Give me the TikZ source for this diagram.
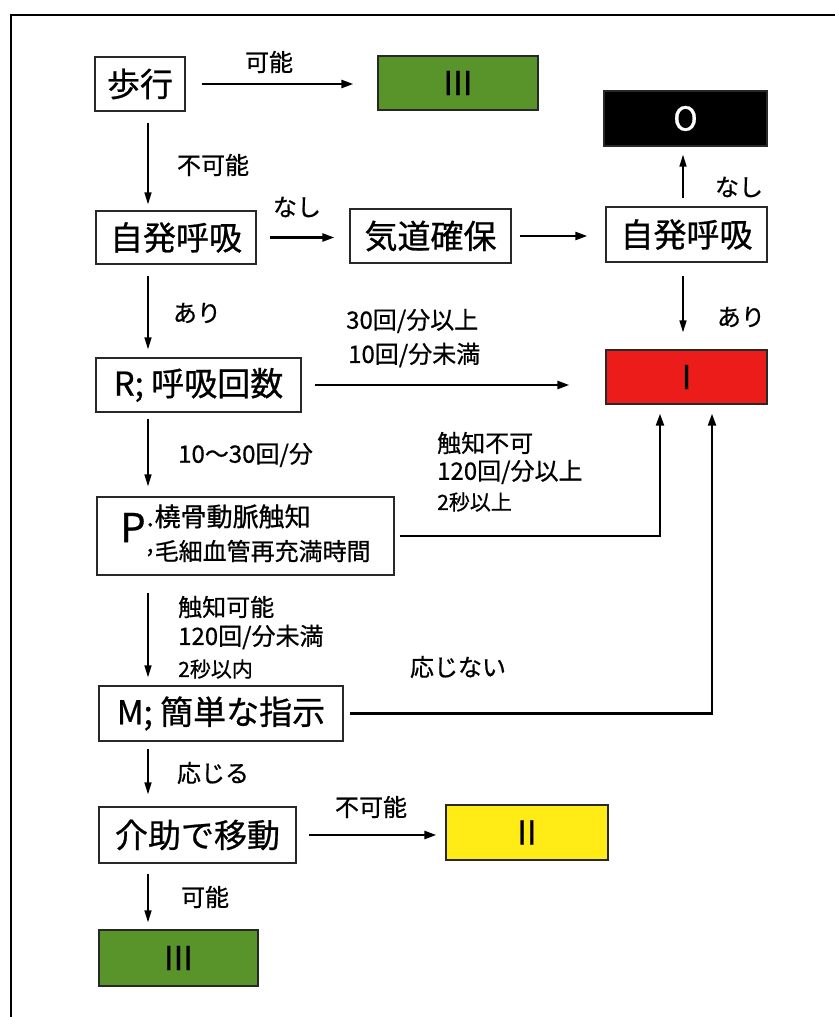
\documentclass[tikz,border=0pt]{standalone}
\usepackage{fontspec}
\newfontfamily\jp[FakeBold=0.7]{Noto Sans CJK JP}
\usetikzlibrary{arrows.meta}
\definecolor{grn}{RGB}{88,148,42}
\definecolor{rd}{RGB}{236,28,26}
\definecolor{yl}{RGB}{255,236,22}
\definecolor{edge}{RGB}{40,40,40}
\newcommand\mainf{\jp\fontsize{33}{36}\selectfont}
\newcommand\labf{\jp\fontsize{24}{26}\selectfont}
\newcommand\smlf{\jp\fontsize{21}{23}\selectfont}
\tikzset{
  box/.style={draw=edge, line width=1.3pt, inner sep=0pt, font=\mainf, align=center, fill=white},
  lab/.style={font=\labf, inner sep=0pt},
  slab/.style={font=\smlf, inner sep=0pt},
  arrV/.style={-{Triangle[length=12pt,width=7pt]}, line width=1.5pt},
  arrH/.style={-{Triangle[length=12pt,width=8pt]}, line width=2.4pt},
}
\begin{document}
\begin{tikzpicture}[x=1pt,y=-1pt]
\useasboundingbox (0,0) rectangle (835,1017);
\fill[white] (0,0) rectangle (835,1017);
\draw[line width=2pt, black] (11,1017) -- (11,15) -- (835,15);

% nodes
\node[box, minimum width=90pt, minimum height=54pt] (walk) at (140,84) {歩行};
\node[box, fill=grn, minimum width=160pt, minimum height=54pt] (g1) at (458,83) {III};
\node[box, fill=black, text=white, minimum width=163pt, minimum height=55pt] (zero) at (685.5,118.5) {O};
\node[box, minimum width=160pt, minimum height=53pt] (sb1) at (176,237.5) {自発呼吸};
\node[box, minimum width=161pt, minimum height=54pt] (air) at (430.5,236) {気道確保};
\node[box, minimum width=161pt, minimum height=55pt] (sb2) at (686.5,234.5) {自発呼吸};
\node[box, fill=rd, minimum width=161pt, minimum height=54pt] (red) at (686.5,377) {I};
\node[box, minimum width=205pt, minimum height=54pt] (R) at (198.5,385) {R; 呼吸回数};
\node[box, minimum width=297pt, minimum height=78pt, align=left] (P) at (245.5,536)
  {{\jp\fontsize{40}{40}\selectfont P}\hspace{1pt}\begin{tabular}{@{}l@{}}
   {\jp\fontsize{26}{30}\selectfont\makebox[8pt][l]{.}橈骨動脈触知}\\[-2pt]
   {\jp\fontsize{24}{30}\selectfont\makebox[8pt][l]{\raisebox{0.35em}{,}}毛細血管再充満時間}
   \end{tabular}};
\node[box, minimum width=244pt, minimum height=55pt] (M) at (221,713.5) {M; 簡単な指示};
\node[box, minimum width=197pt, minimum height=56pt] (as) at (197.5,835) {介助で移動};
\node[box, fill=yl, minimum width=162pt, minimum height=55pt] (yel) at (527,832.5) {II};
\node[box, fill=grn, minimum width=159pt, minimum height=56pt] (g2) at (178.5,958) {III};

\coordinate (lx) at (148,0);

% connectors
\draw[arrH, shorten <=16pt, shorten >=24pt] (walk.east) -- (walk.east -| g1.west);
\draw[arrV, shorten <=11pt, shorten >=6pt] (walk.south -| lx) -- (sb1.north -| lx);
\draw[arrH, shorten <=13pt, shorten >=15pt] (sb1.east) -- (sb1.east -| air.west);
\draw[arrH, shorten <=8pt, shorten >=18pt] (air.east) -- (air.east -| sb2.west);
\draw[arrV, shorten <=8pt, shorten >=8pt] ([xshift=-3.5pt]sb2.north) -- ([xshift=-3.5pt]sb2.north |- zero.south);
\draw[arrV, shorten <=13pt, shorten >=17pt] ([xshift=-3.5pt]sb2.south) -- ([xshift=-3.5pt]sb2.south |- red.north);
\draw[arrV, shorten <=11pt, shorten >=8pt] (sb1.south -| lx) -- (R.north -| lx);
\draw[arrH, shorten <=13pt, shorten >=36pt] (R.east) -- (R.east -| red.west);
\draw[arrV, shorten <=6pt, shorten >=10pt] (R.south -| lx) -- (P.north -| lx);
\draw[arrH, line width=2.2pt, shorten <=5pt, shorten >=9pt] (P.east) -| ([xshift=-26.5pt]red.south);
\draw[arrV, shorten <=17pt, shorten >=8pt] (P.south -| lx) -- (M.north -| lx);
\draw[arrH, line width=2.2pt, shorten <=6pt, shorten >=9pt] (M.east) -| ([xshift=25.5pt]red.south);
\draw[arrV, shorten <=7pt, shorten >=12pt] (M.south -| lx) -- (as.north -| lx);
\draw[arrH, shorten <=12pt, shorten >=9pt] (as.east) -- (as.east -| yel.west);
\draw[arrV, shorten <=10pt, shorten >=7pt] (as.south -| lx) -- (g2.north -| lx);

% labels
\node[lab] (l1) at (269,62) {可能};
\node[lab] (l2) at (213,165) {不可能};
\node[lab] (l3) at (297,207) {なし};
\node[lab] (l4) at (739,187) {なし};
\node[lab] (l5) at (197,313) {あり};
\node[lab] (l6) at (741,317) {あり};
\node[lab, anchor=west] (l7) at (346,321) {30回/分以上};
\node[lab, anchor=west] (l8) at (348,355) {10回/分未満};
\node[lab, anchor=west] (l9) at (178,455) {10～30回/分};
\node[lab, anchor=west] (l10) at (437,443) {触知不可};
\node[lab, anchor=west] (l11) at (437,472) {120回/分以上};
\node[slab, anchor=west] (l12) at (437,502) {2秒以上};
\node[lab, anchor=west] (l13) at (178,607) {触知可能};
\node[lab, anchor=west] (l14) at (178,637) {120回/分未満};
\node[slab, anchor=west] (l15) at (178,669) {2秒以内};
\node[lab] (l16) at (458,667) {応じない};
\node[lab] (l17) at (213,773) {応じる};
\node[lab] (l18) at (371,807) {不可能};
\node[lab] (l19) at (205,897) {可能};
\end{tikzpicture}
\end{document}
